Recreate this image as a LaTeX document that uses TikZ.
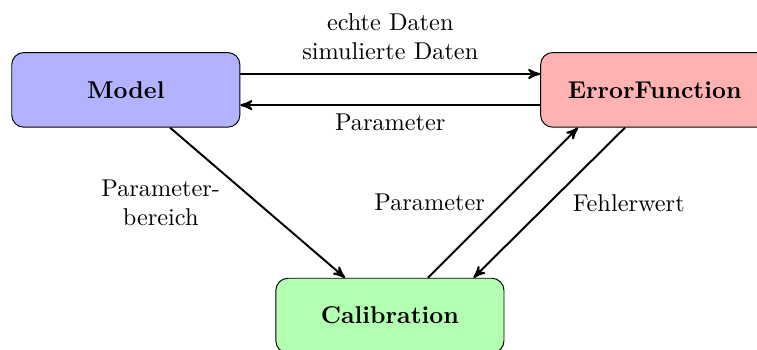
\documentclass[tikz,border=0pt]{standalone}
\usetikzlibrary{positioning,arrows}

\begin{document}
\begin{tikzpicture}[line width=0.8pt,>=stealth',
  box/.style={draw, line width=0.4pt, rounded corners=5pt, minimum width=3.3cm, minimum height=1.08cm, font=\bfseries},
  lbl/.style={align=center}]
\useasboundingbox (0,0) rectangle (10.95,5.05);
% the three blocks
\node[box, fill=blue!30] (model) at (1.82,3.75) {Model};
\node[box, fill=red!30] (error) at (9.47,3.75) {ErrorFunction};
\node[box, fill=green!30] (calib) at (5.64,0.485) {Calibration};
% model <-> error function
\draw[->] ([yshift=0.23cm]model.east) -- node[lbl, above=2pt] {echte Daten\\simulierte Daten} ([yshift=0.23cm]error.west);
\draw[->] ([yshift=-0.22cm]error.west) -- node[lbl, below] {Parameter} ([yshift=-0.22cm]model.east);
% model -> calibration
\draw[->] ([xshift=0.64cm]model.south) -- node[lbl, midway, xshift=-1.4cm] {Parameter-\\bereich} ([xshift=-0.65cm]calib.north);
% calibration <-> error function
\draw[->] ([xshift=0.55cm]calib.north) -- node[lbl, midway, xshift=-1.06cm] {Parameter} ([xshift=-1.11cm]error.south);
\draw[->] ([xshift=-0.43cm]error.south) -- node[lbl, midway, xshift=1.15cm] {Fehlerwert} ([xshift=1.21cm]calib.north);
\end{tikzpicture}
\end{document}
